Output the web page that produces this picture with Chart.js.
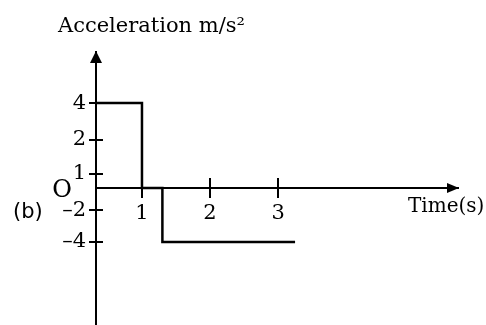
<!DOCTYPE html>
<html>
<head>
<meta charset="utf-8">
<script src="https://cdn.jsdelivr.net/npm/chart.js@4.4.0/dist/chart.umd.min.js"></script>
<style>
  html, body { margin: 0; padding: 0; background: #fff; }
</style>
</head>
<body>
<canvas id="accelGraph" width="486" height="325"></canvas>
<script>
// Acceleration-time step graph
const timeValues = [0, 1, 1, 1.3, 1.3, 3.25];
const accelValues = [4, 4, 0, 0, -4, -4];

const timeTicks = [1, 2, 3];
const accelTicks = [4, 2, 1, -2, -4];

// Linear scale whose values are spread unevenly along the axis,
// using [value, fraction-of-axis] stops between min and max
class PiecewiseScale extends Chart.LinearScale {
  static id = 'piecewise';
  static defaults = {};

  _stopList() {
    const inner = (this.options.stops || []).slice().sort((a, b) => a[0] - b[0]);
    return [[this.min, 0], ...inner, [this.max, 1]];
  }

  getPixelForValue(value) {
    if (value === null || isNaN(value)) return NaN;
    const s = this._stopList();
    let i = 1;
    while (i < s.length - 1 && value > s[i][0]) i++;
    const [v0, f0] = s[i - 1], [v1, f1] = s[i];
    return this.getPixelForDecimal(f0 + (value - v0) / (v1 - v0) * (f1 - f0));
  }

  getValueForPixel(pixel) {
    const d = this.getDecimalForPixel(pixel);
    const s = this._stopList();
    let i = 1;
    while (i < s.length - 1 && d > s[i][1]) i++;
    const [v0, f0] = s[i - 1], [v1, f1] = s[i];
    return v0 + (d - f0) / (f1 - f0) * (v1 - v0);
  }
}
Chart.register(PiecewiseScale);

const fmt = v => (v < 0 ? '\u2013' + Math.abs(v) : String(v));

// arrows, crossing tick marks and the free text around the axes
const axisDecor = {
  id: 'axisDecor',
  afterDraw(chart) {
    const { ctx, chartArea, scales: { x, y } } = chart;
    const ox = x.getPixelForValue(0);
    const oy = y.getPixelForValue(0);
    ctx.save();
    ctx.fillStyle = '#000';
    ctx.strokeStyle = '#000';
    ctx.lineWidth = 2;

    // arrow heads
    ctx.beginPath();
    ctx.moveTo(ox, chartArea.top - 1);
    ctx.lineTo(ox - 6, chartArea.top + 11);
    ctx.lineTo(ox + 6, chartArea.top + 11);
    ctx.closePath();
    ctx.fill();

    ctx.beginPath();
    ctx.moveTo(chartArea.right + 1, oy);
    ctx.lineTo(chartArea.right - 11, oy - 5);
    ctx.lineTo(chartArea.right - 11, oy + 5);
    ctx.closePath();
    ctx.fill();

    // tick marks crossing the axes
    ctx.beginPath();
    accelTicks.forEach(v => {
      const py = Math.round(y.getPixelForValue(v));
      ctx.moveTo(ox - 7, py);
      ctx.lineTo(ox + 7, py);
    });
    timeTicks.forEach(v => {
      const px = Math.round(x.getPixelForValue(v));
      ctx.moveTo(px, oy - 10);
      ctx.lineTo(px, oy + 10);
    });
    ctx.stroke();

    // labels
    ctx.textBaseline = 'alphabetic';
    ctx.textAlign = 'left';
    ctx.font = '21px "DejaVu Serif"';
    ctx.fillText('Acceleration m/s\u00b2', ox - 38, 32);

    ctx.font = '20px "DejaVu Serif"';
    ctx.fillText('Time(s)', chartArea.right - 50, oy + 24);

    ctx.font = '24px "DejaVu Serif"';
    ctx.textAlign = 'center';
    ctx.fillText('O', ox - 34, oy + 9);

    ctx.font = '21px "DejaVu Sans"';
    ctx.textAlign = 'left';
    ctx.fillText('(b)', 13, oy + 30);
    ctx.restore();
  }
};

new Chart(document.getElementById('accelGraph'), {
  type: 'line',
  data: {
    datasets: [{
      data: timeValues.map((t, i) => ({ x: t, y: accelValues[i] })),
      borderColor: '#000',
      borderWidth: 2.5,
      pointRadius: 0,
      tension: 0,
      fill: false
    }]
  },
  options: {
    responsive: false,
    animation: false,
    layout: { padding: { left: 0, top: 52, right: 28, bottom: 0 } },
    plugins: { legend: { display: false }, tooltip: { enabled: false } },
    scales: {
      x: {
        type: 'piecewise',
        position: { y: 0 },
        min: 0,
        max: 5.65,
        stops: [[1, 0.127], [2, 0.315], [3, 0.503]],
        afterBuildTicks: s => { s.ticks = timeTicks.map(v => ({ value: v })); },
        afterFit: s => { s.paddingLeft = 0; s.paddingRight = 0; },
        ticks: {
          autoSkip: false,
          maxRotation: 0,
          padding: 5,
          color: '#000',
          font: { family: 'DejaVu Serif', size: 21 },
          callback: fmt
        },
        grid: { drawOnChartArea: false, tickLength: 8, tickColor: 'transparent' },
        border: { color: '#000', width: 2 }
      },
      y: {
        type: 'piecewise',
        position: 'left',
        min: -12,
        max: 6.5,
        stops: [[-4, 0.304], [-2, 0.421], [0, 0.502], [1, 0.553], [2, 0.678], [4, 0.813]],
        afterBuildTicks: s => { s.ticks = accelTicks.map(v => ({ value: v })); },
        afterFit: s => { s.width = 96; s.paddingTop = 0; s.paddingBottom = 0; },
        ticks: {
          autoSkip: false,
          padding: 5,
          color: '#000',
          font: { family: 'DejaVu Serif', size: 21 },
          callback: fmt
        },
        grid: { drawOnChartArea: false, tickLength: 5, tickColor: 'transparent' },
        border: { color: '#000', width: 2 }
      }
    }
  },
  plugins: [axisDecor]
});
</script>
</body>
</html>
